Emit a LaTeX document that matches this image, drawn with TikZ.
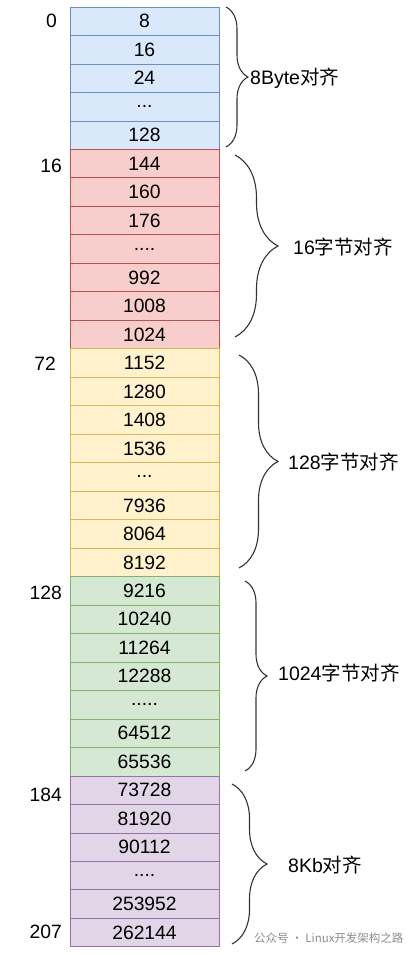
\documentclass[tikz,border=0pt]{standalone}
\usepackage{fontspec}
\setmainfont{Liberation Sans}
\newfontfamily\cjk{Noto Sans CJK SC}
\usepackage{xcolor}
\usetikzlibrary{decorations.pathreplacing}
\definecolor{bluefill}{HTML}{DAE8FC}\definecolor{bluedraw}{HTML}{6C8EBF}
\definecolor{redfill}{HTML}{F8CECC}\definecolor{reddraw}{HTML}{B85450}
\definecolor{yelfill}{HTML}{FFF2CC}\definecolor{yeldraw}{HTML}{D6B656}
\definecolor{grnfill}{HTML}{D5E8D4}\definecolor{grndraw}{HTML}{82B366}
\definecolor{purfill}{HTML}{E1D5E7}\definecolor{purdraw}{HTML}{9673A6}
\newcommand{\gapdots}[1]{\foreach \d in {1,...,#1}{.}}

\begin{document}
\begin{tikzpicture}[x=1pt,y=-1pt,
  cell/.style={draw,line width=0.8pt,minimum width=149pt,minimum height=28.48pt,inner sep=0pt,
    font=\fontsize{19.3}{21}\selectfont},
  cblue/.style={cell,fill=bluefill,draw=bluedraw},
  cred/.style={cell,fill=redfill,draw=reddraw},
  cyel/.style={cell,fill=yelfill,draw=yeldraw},
  cgrn/.style={cell,fill=grnfill,draw=grndraw},
  cpur/.style={cell,fill=purfill,draw=purdraw},
  idx/.style={anchor=east,inner sep=0pt,font=\fontsize{19.3}{21}\selectfont},
  grp/.style={decorate,decoration={brace,amplitude=#1},line width=1.1pt,draw=black!80},
  glab/.style={anchor=west,inner sep=0pt,font=\fontsize{19.5}{21}\selectfont}]
\useasboundingbox (0,0) rectangle (418,955);
\newcommand{\sizeclass}[4]{
  \foreach \v [count=\k from #1] in {#3} { \node[#2] (#4\k) at (144.5,{7+28.48*(\k+0.5)}) {\v}; }
}
% size classes, one row per slot size
\sizeclass{0}{cblue}{8,16,24,\gapdots{3},128}{b}
\sizeclass{5}{cred}{144,160,176,\gapdots{4},992,1008,1024}{r}
\sizeclass{12}{cyel}{1152,1280,1408,1536,\gapdots{3},7936,8064,8192}{y}
\sizeclass{20}{cgrn}{9216,10240,11264,12288,\gapdots{5},64512,65536}{g}
\sizeclass{27}{cpur}{73728,81920,90112,\gapdots{4},253952,262144}{p}
% class indices
\node[idx] (i0) at (57,21) {0};
\node[idx] (i1) at (62,166) {16};
\node[idx] (i2) at (56,364) {72};
\node[idx] (i3) at (62,593) {128};
\node[idx] (i4) at (62,795) {184};
\node[idx] (i5) at (62,932) {207};
% braces
\coordinate (bt) at (226,7);   \coordinate (bb) at (226,147);
\coordinate (rt) at (235,155); \coordinate (rb) at (235,337);
\coordinate (yt) at (239,355); \coordinate (yb) at (239,568);
\coordinate (gt) at (245,581); \coordinate (gb) at (245,771);
\coordinate (pt) at (232,784); \coordinate (pb) at (232,944);
\draw[grp=22] (bt) -- (bb);
\draw[grp=43] (rt) -- (rb);
\draw[grp=39] (yt) -- (yb);
\draw[grp=22] (gt) -- (gb);
\draw[grp=35] (pt) -- (pb);
\node[glab] (lb) at (250,78) {8Byte{\cjk 对齐}};
\node[glab] (lr) at (293,247) {16{\cjk 字节对齐}};
\node[glab] (ly) at (288,462) {128{\cjk 字节对齐}};
\node[glab] (lg) at (278,673) {1024{\cjk 字节对齐}};
\node[glab] (lp) at (288,865) {8Kb{\cjk 对齐}};
\node[anchor=west,inner sep=0pt,text=black!45,font=\cjk\fontsize{11.5}{13}\selectfont] (wm) at (254,938) {公众号 · Linux开发架构之路};
\end{tikzpicture}
\end{document}
